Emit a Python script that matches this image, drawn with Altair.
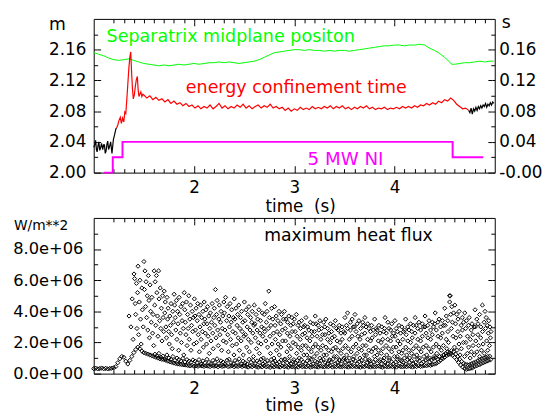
import altair as alt
import pandas as pd

FONT = "DejaVu Sans"
GREEN = "#00ff00"
RED = "#ff0000"
MAGENTA = "#ff00ff"

# ---------------- top panel data ----------------
GREEN_T = [1.00, 1.05, 1.10, 1.15, 1.20, 1.25, 1.30, 1.35, 1.40, 1.45,
           1.50, 1.55, 1.60, 1.65, 1.70, 1.75, 1.80, 1.85, 1.90, 1.95,
           2.00, 2.05, 2.10, 2.15, 2.20, 2.25, 2.30, 2.35, 2.40, 2.45,
           2.50, 2.55, 2.60, 2.65, 2.70, 2.75, 2.80, 2.85, 2.90, 2.95,
           3.00, 3.05, 3.10, 3.15, 3.20, 3.25, 3.30, 3.35, 3.40, 3.45,
           3.50, 3.55, 3.60, 3.65, 3.70, 3.75, 3.80, 3.85, 3.90, 3.95,
           4.00, 4.05, 4.10, 4.15, 4.20, 4.25, 4.30, 4.35, 4.40, 4.45,
           4.50, 4.55, 4.57, 4.60, 4.65, 4.70, 4.75, 4.80, 4.85, 4.90, 4.95, 4.99]
GREEN_M = [2.156, 2.154, 2.152, 2.149, 2.147, 2.146, 2.147, 2.148, 2.146, 2.144,
           2.142, 2.141, 2.140, 2.139, 2.140, 2.139, 2.140, 2.141, 2.140, 2.141,
           2.142, 2.141, 2.142, 2.143, 2.143, 2.144, 2.143, 2.144, 2.143, 2.142,
           2.143, 2.144, 2.145, 2.147, 2.150, 2.153, 2.156, 2.157, 2.158, 2.159,
           2.160, 2.160, 2.159, 2.160, 2.159, 2.159, 2.158, 2.159, 2.158, 2.159,
           2.159, 2.158, 2.159, 2.160, 2.161, 2.162, 2.163, 2.164, 2.165, 2.165,
           2.166, 2.166, 2.165, 2.166, 2.166, 2.167, 2.166, 2.162, 2.159, 2.155,
           2.150, 2.144, 2.141, 2.141, 2.142, 2.143, 2.143, 2.144, 2.145, 2.144, 2.145, 2.145]

BLACK1_T = [1.000, 1.010, 1.019, 1.027, 1.034, 1.043, 1.051, 1.060, 1.068, 1.078,
            1.090, 1.098, 1.107, 1.115, 1.123, 1.132, 1.140, 1.148, 1.156, 1.169,
            1.182, 1.196, 1.208, 1.221, 1.228]
BLACK1_S = [0.033, 0.036, 0.042, 0.030, 0.027, 0.035, 0.040, 0.029, 0.032, 0.038,
            0.030, 0.036, 0.036, 0.025, 0.028, 0.037, 0.041, 0.030, 0.033, 0.040,
            0.025, 0.043, 0.049, 0.057, 0.058]

RED_T0 = [1.228, 1.240, 1.252, 1.265, 1.276, 1.288, 1.300, 1.310, 1.320, 1.330,
          1.340, 1.350, 1.360, 1.369, 1.378, 1.387, 1.395, 1.405, 1.415, 1.425,
          1.435, 1.443, 1.451, 1.460, 1.470, 1.480, 1.490]
RED_S0 = [0.058, 0.062, 0.068, 0.072, 0.064, 0.071, 0.066, 0.079, 0.077, 0.095,
          0.115, 0.135, 0.150, 0.157, 0.130, 0.108, 0.096, 0.101, 0.112, 0.121,
          0.125, 0.108, 0.099, 0.102, 0.105, 0.099, 0.102]
# sampled every 0.03 s from 1.50 s
RED_S1 = [0.101, 0.097, 0.100, 0.095, 0.098, 0.094, 0.096, 0.092, 0.095, 0.090,
          0.093, 0.089, 0.091, 0.087, 0.090, 0.086, 0.088, 0.084, 0.087, 0.083,
          0.086, 0.084, 0.088, 0.083, 0.086, 0.090, 0.084, 0.087, 0.083, 0.086,
          0.084, 0.088, 0.085, 0.089, 0.084, 0.087, 0.083, 0.086, 0.088, 0.084,
          0.087, 0.085, 0.089, 0.084, 0.086, 0.083, 0.085, 0.081, 0.084, 0.080,
          0.083, 0.081, 0.085, 0.082, 0.084, 0.082, 0.086, 0.083, 0.085, 0.083,
          0.086, 0.084, 0.087, 0.083, 0.086, 0.084, 0.087, 0.083, 0.085, 0.082,
          0.085, 0.083, 0.086, 0.084, 0.087, 0.083, 0.085, 0.082, 0.084, 0.083,
          0.085, 0.082, 0.084, 0.083, 0.085, 0.083, 0.086, 0.084, 0.086, 0.084,
          0.087, 0.085, 0.088, 0.087, 0.090, 0.088, 0.091, 0.089, 0.093, 0.091,
          0.095, 0.093, 0.097, 0.094, 0.089, 0.086, 0.083, 0.084, 0.081]

BLACK2_T = [4.740, 4.752, 4.764, 4.776, 4.788, 4.800, 4.812, 4.824, 4.836, 4.848,
            4.860, 4.872, 4.884, 4.896, 4.908, 4.920, 4.932, 4.944, 4.956, 4.968,
            4.980, 4.990]
BLACK2_S = [0.081, 0.078, 0.084, 0.076, 0.083, 0.080, 0.085, 0.081, 0.086, 0.083,
            0.087, 0.084, 0.088, 0.086, 0.090, 0.085, 0.089, 0.087, 0.091, 0.088,
            0.092, 0.090]

NI_T = [1.10, 1.19, 1.287, 4.58, 4.886]
NI_S = [0.00, 0.02, 0.04, 0.02, 0.02]

# ---------------- bottom panel data (W/m**2) ----------------
# baseline, 1e6 W/m**2, every 0.02 s from 1.00 s
BASE_Q = [0.32, 0.35, 0.30, 0.33, 0.36, 0.31, 0.34, 0.30, 0.33, 0.35,
          0.38, 0.45, 0.70, 0.95, 1.10, 1.05, 0.80, 0.62, 0.85, 1.10,
          1.35, 1.55, 1.70, 1.60, 1.45, 1.35, 1.30, 1.25, 1.20, 1.15,
          1.10, 1.05, 1.00, 0.95, 0.92, 0.90, 0.85, 0.80, 0.76, 0.72,
          0.68, 0.65, 0.62, 0.60, 0.58, 0.56, 0.55, 0.52, 0.50, 0.53,
          0.48, 0.50, 0.47, 0.52, 0.49, 0.46, 0.50, 0.48, 0.45, 0.51,
          0.47, 0.49, 0.44, 0.50, 0.46, 0.48, 0.52, 0.45, 0.47, 0.50,
          0.44, 0.48, 0.46, 0.51, 0.45, 0.49, 0.46, 0.42, 0.48, 0.44,
          0.50, 0.45, 0.41, 0.47, 0.43, 0.49, 0.44, 0.46, 0.40, 0.47,
          0.43, 0.48, 0.45, 0.42, 0.49, 0.44, 0.46, 0.41, 0.48, 0.43,
          0.45, 0.47, 0.42, 0.49, 0.44, 0.46, 0.43, 0.48, 0.41, 0.45,
          0.47, 0.44, 0.42, 0.48, 0.45, 0.43, 0.47, 0.44, 0.49, 0.42,
          0.46, 0.44, 0.48, 0.43, 0.45, 0.47, 0.45, 0.42, 0.47, 0.44,
          0.48, 0.43, 0.46, 0.41, 0.47, 0.44, 0.49, 0.45, 0.42, 0.47,
          0.43, 0.46, 0.48, 0.44, 0.41, 0.47, 0.45, 0.43, 0.48, 0.44,
          0.46, 0.42, 0.49, 0.45, 0.43, 0.47, 0.44, 0.48, 0.46, 0.42,
          0.47, 0.45, 0.50, 0.46, 0.48, 0.52, 0.50, 0.55, 0.53, 0.58,
          0.62, 0.66, 0.75, 0.85, 0.95, 1.05, 1.15, 1.22, 1.25, 1.18,
          1.05, 0.90, 0.72, 0.55, 0.42, 0.32, 0.28, 0.30, 0.34, 0.38,
          0.45, 0.50, 0.56, 0.62, 0.68, 0.74, 0.80, 0.85, 0.90]
# second dense band, 1e6 W/m**2, every 0.02 s from 1.61 s
BAND_Q = [1.25, 1.15, 1.30, 1.05, 1.12, 0.95, 1.20, 1.00, 0.92, 1.10,
          0.85, 1.00, 0.90, 0.82, 0.98, 0.75, 0.90, 0.80, 0.72, 0.88,
          0.80, 0.70, 0.90, 0.62, 0.82, 0.70, 0.92, 0.72, 0.64, 0.85,
          0.72, 0.95, 0.65, 0.82, 0.74, 0.62, 0.86, 0.92, 0.70, 0.64,
          0.84, 0.72, 0.95, 0.63, 0.80, 0.70, 0.62, 0.92, 0.73, 0.85,
          0.64, 0.82, 0.72, 0.93, 0.62, 0.75, 0.84, 0.65, 0.90, 0.72,
          0.80, 0.63, 0.74, 0.88, 0.66, 0.94, 0.70, 0.82, 0.62, 0.76,
          0.72, 0.84, 0.63, 0.90, 0.74, 0.64, 0.82, 0.70, 0.93, 0.62,
          0.80, 0.72, 0.64, 0.84, 0.92, 0.70, 0.63, 0.82, 0.74, 0.95,
          0.64, 0.72, 0.84, 0.62, 0.90, 0.74, 0.82, 0.64, 0.70, 0.92,
          0.82, 0.63, 0.76, 0.86, 0.64, 0.94, 0.72, 0.80, 0.62, 0.74,
          0.90, 0.66, 0.78, 0.62, 0.84, 0.72, 0.64, 0.88, 0.76, 0.63,
          0.74, 0.92, 0.64, 0.82, 0.72, 0.62, 0.90, 0.74, 0.84, 0.64,
          0.72, 0.94, 0.82, 0.64, 0.76, 0.86, 0.95, 0.74, 0.88, 0.96,
          1.02, 0.92, 1.10, 1.00, 1.20, 1.30, 1.40, 1.35, 1.48, 1.42,
          1.25, 1.10, 0.92, 0.78, 0.66, 0.60, 0.56, 0.58, 0.64, 0.70,
          0.75, 0.82, 0.88, 0.95, 1.00, 1.05, 1.10, 1.12]
# scattered ELM peaks: (time in ms, flux in 1e5 W/m**2)
BURSTS = [
    (1352, 37), (1371, 30), (1384, 48), (1393, 22),
    (1402, 64), (1408, 61), (1413, 45), (1419, 38), (1426, 58), (1431, 29), (1437, 52), (1442, 69), (1448, 25), (1455, 46), (1461, 60), (1467, 35), (1473, 19), (1480, 55), (1486, 41), (1494, 30),
    (1501, 72), (1506, 54), (1511, 66), (1517, 43), (1522, 59), (1528, 36), (1534, 50), (1539, 28), (1545, 63), (1551, 47), (1556, 23), (1562, 57), (1568, 40), (1574, 33), (1580, 49), (1587, 26), (1593, 38), (1598, 18),
    (1603, 66), (1608, 44), (1613, 59), (1619, 31), (1625, 63), (1630, 52), (1636, 37), (1641, 24), (1647, 66), (1652, 48), (1658, 34), (1664, 55), (1669, 29), (1675, 42), (1681, 21), (1687, 50), (1692, 36), (1698, 27),
    (1703, 53), (1709, 39), (1714, 46), (1720, 30), (1726, 23), (1731, 49), (1737, 35), (1742, 42), (1748, 27), (1754, 19), (1759, 37), (1765, 31), (1771, 45), (1777, 25), (1783, 16), (1789, 40), (1795, 33),
    (1802, 51), (1807, 44), (1813, 36), (1819, 28), (1824, 47), (1830, 22), (1836, 40), (1841, 32), (1847, 15), (1852, 49), (1858, 38), (1864, 26), (1870, 43), (1875, 20), (1881, 34), (1887, 45), (1893, 29), (1898, 12),
    (1903, 52), (1908, 41), (1914, 33), (1920, 25), (1925, 46), (1931, 18), (1937, 38), (1942, 29), (1948, 50), (1953, 22), (1959, 35), (1965, 44), (1970, 15), (1976, 31), (1982, 40), (1988, 27), (1994, 36), (1999, 19),
    (2004, 48), (2009, 37), (2015, 28), (2021, 42), (2026, 20), (2032, 34), (2037, 45), (2043, 25), (2049, 38), (2054, 14), (2060, 30), (2066, 44), (2071, 22), (2077, 36), (2083, 27), (2089, 40), (2094, 17), (2099, 32),
    (2102, 46), (2108, 35), (2113, 26), (2119, 41), (2125, 19), (2130, 32), (2136, 43), (2141, 24), (2147, 37), (2153, 13), (2158, 29), (2164, 39), (2170, 21), (2175, 33), (2181, 45), (2187, 26), (2192, 16), (2198, 36),
    (2203, 42), (2208, 31), (2214, 54), (2220, 23), (2225, 38), (2231, 47), (2236, 28), (2242, 18), (2248, 35), (2253, 44), (2259, 25), (2265, 33), (2270, 40), (2276, 15), (2282, 29), (2287, 37), (2293, 21), (2298, 46),
    (2304, 39), (2309, 28), (2315, 49), (2320, 20), (2326, 34), (2332, 43), (2337, 25), (2343, 14), (2348, 37), (2354, 30), (2360, 45), (2365, 22), (2371, 33), (2376, 41), (2382, 18), (2388, 27), (2393, 36), (2399, 12),
    (2402, 48), (2408, 35), (2413, 26), (2419, 42), (2425, 19), (2430, 31), (2436, 38), (2441, 23), (2447, 44), (2453, 15), (2458, 29), (2464, 36), (2470, 21), (2475, 40), (2481, 27), (2487, 33), (2492, 12), (2498, 24),
    (2503, 46), (2508, 34), (2514, 25), (2520, 41), (2525, 17), (2531, 30), (2536, 38), (2542, 22), (2548, 43), (2553, 14), (2559, 28), (2565, 36), (2570, 20), (2576, 33), (2581, 40), (2587, 26), (2593, 11), (2598, 31),
    (2602, 44), (2607, 32), (2613, 23), (2619, 38), (2624, 16), (2630, 28), (2635, 35), (2641, 20), (2647, 41), (2652, 13), (2658, 26), (2664, 34), (2669, 19), (2675, 30), (2681, 39), (2686, 24), (2692, 10), (2697, 29),
    (2701, 38), (2706, 27), (2711, 45), (2717, 21), (2722, 33), (2729, 40), (2734, 17), (2741, 29), (2746, 53), (2752, 36), (2758, 24), (2763, 13), (2768, 31), (2775, 42), (2779, 19), (2786, 35), (2793, 26), (2797, 10),
    (2804, 43), (2809, 31), (2812, 22), (2820, 37), (2823, 15), (2829, 27), (2837, 34), (2840, 19), (2848, 40), (2851, 12), (2856, 25), (2865, 32), (2867, 17), (2873, 38), (2882, 28), (2884, 21), (2893, 35), (2899, 9),
    (2902, 40), (2910, 29), (2913, 21), (2917, 35), (2927, 14), (2931, 26), (2934, 33), (2944, 18), (2946, 37), (2955, 11), (2957, 24), (2966, 31), (2968, 16), (2977, 36), (2979, 27), (2988, 20), (2990, 32), (2996, 9),
    (3001, 35), (3009, 27), (3012, 19), (3021, 38), (3024, 13), (3029, 24), (3038, 31), (3040, 17), (3049, 33), (3051, 10), (3060, 22), (3062, 29), (3071, 15), (3073, 34), (3082, 25), (3085, 18), (3094, 30), (3096, 12),
    (3104, 31), (3106, 26), (3115, 18), (3117, 36), (3126, 12), (3128, 23), (3133, 30), (3143, 16), (3145, 28), (3154, 10), (3156, 21), (3161, 33), (3171, 14), (3173, 27), (3178, 24), (3188, 17), (3189, 32), (3199, 11),
    (3201, 27), (3210, 37), (3212, 19), (3217, 32), (3227, 13), (3228, 24), (3238, 31), (3239, 17), (3245, 28), (3255, 10), (3256, 34), (3266, 22), (3267, 15), (3273, 29), (3282, 25), (3284, 18), (3294, 33), (3295, 12),
    (3304, 30), (3306, 25), (3315, 35), (3317, 17), (3322, 12), (3332, 22), (3333, 29), (3343, 15), (3345, 26), (3350, 9), (3360, 20), (3361, 32), (3371, 14), (3372, 27), (3378, 23), (3388, 16), (3389, 31), (3399, 11),
    (3401, 24), (3410, 34), (3412, 17), (3421, 29), (3423, 11), (3428, 21), (3438, 28), (3439, 15), (3449, 31), (3450, 9), (3456, 20), (3466, 26), (3467, 13), (3477, 30), (3478, 22), (3484, 16), (3494, 27), (3495, 10),
    (3504, 26), (3506, 36), (3511, 18), (3521, 31), (3522, 12), (3532, 39), (3533, 29), (3539, 16), (3549, 22), (3550, 10), (3560, 33), (3561, 28), (3567, 14), (3577, 24), (3578, 35), (3588, 17), (3589, 30), (3595, 11),
    (3601, 30), (3606, 38), (3616, 19), (3617, 27), (3627, 13), (3628, 32), (3634, 24), (3644, 16), (3645, 34), (3655, 10), (3656, 22), (3662, 29), (3672, 15), (3673, 25), (3683, 33), (3684, 18), (3690, 31), (3699, 12),
    (3704, 26), (3705, 36), (3715, 18), (3716, 30), (3721, 12), (3732, 22), (3733, 32), (3743, 15), (3744, 29), (3749, 9), (3760, 21), (3761, 27), (3771, 14), (3772, 31), (3777, 23), (3788, 16), (3789, 28), (3799, 11),
    (3802, 35), (3811, 25), (3812, 17), (3817, 29), (3827, 12), (3828, 28), (3839, 21), (3840, 15), (3845, 31), (3855, 9), (3856, 26), (3866, 20), (3868, 13), (3873, 30), (3883, 22), (3884, 16), (3894, 27), (3896, 10),
    (3901, 29), (3906, 36), (3916, 18), (3918, 26), (3922, 12), (3933, 22), (3934, 33), (3944, 16), (3945, 29), (3950, 10), (3961, 21), (3962, 28), (3972, 14), (3973, 32), (3978, 24), (3989, 17), (3990, 26), (3999, 11),
    (4004, 34), (4006, 24), (4016, 17), (4017, 29), (4027, 11), (4028, 27), (4033, 21), (4044, 14), (4045, 31), (4055, 9), (4056, 19), (4061, 26), (4072, 13), (4073, 30), (4083, 22), (4084, 15), (4089, 27), (4099, 10),
    (4101, 28), (4111, 35), (4112, 17), (4117, 25), (4122, 12), (4132, 30), (4133, 21), (4143, 15), (4145, 28), (4150, 10), (4160, 32), (4161, 20), (4171, 13), (4172, 27), (4177, 23), (4188, 16), (4189, 31), (4195, 11),
    (4205, 26), (4206, 36), (4216, 18), (4217, 31), (4222, 12), (4232, 29), (4233, 22), (4243, 16), (4244, 33), (4249, 10), (4260, 21), (4261, 28), (4266, 14), (4277, 32), (4278, 24), (4288, 17), (4289, 30), (4294, 11),
    (4304, 30), (4305, 37), (4315, 18), (4316, 26), (4321, 12), (4332, 31), (4333, 23), (4343, 16), (4344, 34), (4349, 10), (4360, 28), (4361, 22), (4366, 14), (4377, 25), (4378, 33), (4388, 17), (4389, 30), (4395, 11),
    (4401, 32), (4406, 39), (4416, 19), (4417, 28), (4422, 13), (4433, 33), (4434, 24), (4444, 17), (4445, 35), (4450, 11), (4460, 30), (4461, 23), (4467, 15), (4477, 26), (4478, 34), (4488, 18), (4489, 31), (4494, 12),
    (4501, 42), (4506, 31), (4516, 22), (4517, 37), (4522, 16), (4532, 34), (4533, 27), (4539, 20), (4549, 50), (4550, 46), (4556, 50), (4561, 38), (4567, 29), (4572, 43), (4578, 33), (4584, 24), (4589, 39), (4598, 17),
    (4602, 44), (4609, 32), (4612, 23), (4621, 38), (4623, 15), (4632, 27), (4634, 35), (4643, 19), (4645, 40), (4654, 12), (4656, 24), (4665, 31), (4667, 16), (4676, 36), (4678, 28), (4687, 20), (4689, 33), (4699, 11),
    (4701, 39), (4710, 29), (4712, 20), (4717, 34), (4727, 13), (4728, 24), (4738, 31), (4739, 17), (4745, 36), (4755, 10), (4756, 22), (4766, 28), (4767, 14), (4773, 32), (4782, 25), (4784, 18), (4794, 30), (4795, 12),
    (4804, 41), (4806, 30), (4811, 21), (4821, 35), (4822, 14), (4832, 25), (4833, 32), (4839, 18), (4849, 38), (4850, 11), (4860, 23), (4861, 30), (4867, 15), (4877, 44), (4878, 27), (4884, 19), (4894, 33), (4895, 13),
    (4903, 40), (4908, 29), (4914, 36), (4919, 21), (4925, 31), (4930, 15), (4936, 26), (4941, 34), (4947, 18), (4952, 30), (4957, 23), (4962, 27),
]

# ---------------- ticks ----------------
X_TICKS = [1.2, 1.3, 1.4, 1.5, 1.6, 1.7, 1.8, 1.9, 2.0,
           2.1, 2.2, 2.3, 2.4, 2.5, 2.6, 2.7, 2.8, 2.9, 3.0,
           3.1, 3.2, 3.3, 3.4, 3.5, 3.6, 3.7, 3.8, 3.9, 4.0,
           4.1, 4.2, 4.3, 4.4, 4.5, 4.6, 4.7, 4.8, 4.9]
M_TICKS = [2.00, 2.02, 2.04, 2.06, 2.08, 2.10, 2.12, 2.14, 2.16, 2.18]
S_TICKS = [0.00, 0.02, 0.04, 0.06, 0.08, 0.10, 0.12, 0.14, 0.16, 0.18]
Q_TICKS = [0, 1e6, 2e6, 3e6, 4e6, 5e6, 6e6, 7e6, 8e6, 9e6]

MAJ_X = "abs(datum.value - round(datum.value)) < 0.001"
MAJ_M = "abs((datum.value - 2) / 0.04 - round((datum.value - 2) / 0.04)) < 0.01"
MAJ_S = "abs(datum.value / 0.04 - round(datum.value / 0.04)) < 0.01"
MAJ_Q = "abs(datum.value / 2000000 - round(datum.value / 2000000)) < 0.01"
XL = "format(round(datum.value), 'd')"
ML = "format(datum.value, '.2f')"
SL = "(datum.value < 0.001 ? '-0.00' : format(datum.value, '.2f'))"
QL = "replace(format(datum.value, '.1e'), 'e+', 'e+0')"


def ax(orient, values, major, labels=True, label_expr=None, pad=0, size=17):
    kw = dict(orient=orient, values=values, offset=-7, tickSize=7, tickWidth=1,
              tickColor="black", domain=False, grid=False, title=None,
              tickDash={"condition": {"test": major, "value": [8, 0]}, "value": [4, 3]},
              tickDashOffset=4, labels=labels)
    if labels:
        kw.update(labelExpr=f"({major}) ? {label_expr} : ''", labelPadding=pad,
                  labelFontSize=size, labelFont=FONT, labelColor="black",
                  labelOverlap=False, labelFlush=False)
    return alt.Axis(**kw)


def txt(s, x, y, color, size, align="left"):
    return alt.Chart(pd.DataFrame({"s": [s]})).mark_text(
        align=align, baseline="alphabetic", font=FONT, fontSize=size, color=color
    ).encode(x=alt.value(x), y=alt.value(y), text="s:N")


xs = alt.Scale(domain=[1.0, 5.0], nice=False, zero=False)
ym = alt.Scale(domain=[2.0, 2.2], nice=False, zero=False)
ysc = alt.Scale(domain=[0.0, 0.2], nice=False, zero=False)
yq = alt.Scale(domain=[0, 1e7], nice=False, zero=False)

green_df = pd.DataFrame({"t": GREEN_T, "v": GREEN_M})
red_t = RED_T0 + [round(1.50 + 0.03 * i, 2) for i in range(len(RED_S1))]
s_df = pd.DataFrame({
    "t": BLACK1_T + red_t + BLACK2_T,
    "v": BLACK1_S + RED_S0 + RED_S1 + BLACK2_S,
    "seg": ["pre"] * len(BLACK1_T) + ["tau"] * len(red_t) + ["post"] * len(BLACK2_T),
})
ni_df = pd.DataFrame({"t": NI_T, "v": NI_S})

green = alt.Chart(green_df).mark_line(color=GREEN, strokeWidth=1).encode(
    x=alt.X("t:Q", scale=xs, axis=ax("bottom", X_TICKS, MAJ_X, label_expr=XL, pad=7)),
    y=alt.Y("v:Q", scale=ym, axis=ax("left", M_TICKS, MAJ_M, label_expr=ML, pad=8)),
)
sline = alt.Chart(s_df).mark_line(strokeWidth=1.2).encode(
    x=alt.X("t:Q", scale=xs, axis=ax("top", X_TICKS, MAJ_X, labels=False)),
    y=alt.Y("v:Q", scale=ysc, axis=ax("right", S_TICKS, MAJ_S, label_expr=SL, pad=4)),
    color=alt.Color("seg:N", scale=alt.Scale(domain=["pre", "tau", "post"],
                                             range=["black", RED, "black"]), legend=None),
)
ni = alt.Chart(ni_df).mark_line(color=MAGENTA, strokeWidth=2, interpolate="step-after").encode(
    x=alt.X("t:Q", scale=xs, axis=None), y=alt.Y("v:Q", scale=ysc, axis=None))

top = alt.layer(
    green, sline, ni,
    txt("Separatrix midplane positon", 13, 23.5, GREEN, 17.8),
    txt("energy confinement time", 93.5, 75, RED, 17.7),
    txt("5 MW NI", 217, 148, MAGENTA, 18.5),
    txt("m", -45.5, 11, "black", 17.5),
    txt("s", 414, 9.5, "black", 17.5),
    txt("time\u00a0\u00a0(s)", 210, 196, "black", 17, align="center"),
).resolve_scale(y="independent").properties(width=407, height=156)

heat_t = [round(1.00 + 0.02 * i, 2) for i in range(len(BASE_Q))] \
    + [round(1.61 + 0.02 * i, 2) for i in range(len(BAND_Q))] \
    + [ms / 1000 for ms, _ in BURSTS]
heat_q = [q * 1e6 for q in BASE_Q] + [q * 1e6 for q in BAND_Q] + [q * 1e5 for _, q in BURSTS]
heat_df = pd.DataFrame({"t": heat_t, "q": heat_q})

pts = alt.Chart(heat_df).mark_point(shape="diamond", filled=False, size=18,
                                    strokeWidth=1, color="black", opacity=1).encode(
    x=alt.X("t:Q", scale=xs, axis=ax("bottom", X_TICKS, MAJ_X, label_expr=XL, pad=7)),
    y=alt.Y("q:Q", scale=yq, axis=ax("left", Q_TICKS, MAJ_Q, label_expr=QL, pad=11, size=16.5)),
)
ghost = alt.Chart(heat_df).mark_point(opacity=0, size=1).encode(
    x=alt.X("t:Q", scale=xs, axis=ax("top", X_TICKS, MAJ_X, labels=False)),
    y=alt.Y("q:Q", scale=yq, axis=ax("right", Q_TICKS, MAJ_Q, labels=False)),
)
bottom = alt.layer(
    pts, ghost,
    txt("W/m**2", -81, 12.3, "black", 14),
    txt("maximum heat flux", 173, 23.7, "black", 17.5),
    txt("time\u00a0\u00a0(s)", 210, 196, "black", 17, align="center"),
).properties(width=407, height=158)

chart = alt.vconcat(top, bottom, spacing=46, bounds="flush").properties(
    padding={"left": 4, "top": 3, "right": 2, "bottom": 2}
).configure_view(stroke="black", strokeWidth=1).configure_axis(
    labelFont=FONT, labelColor="black"
)

chart.save("out.html", embed_options={"renderer": "svg", "actions": False})
